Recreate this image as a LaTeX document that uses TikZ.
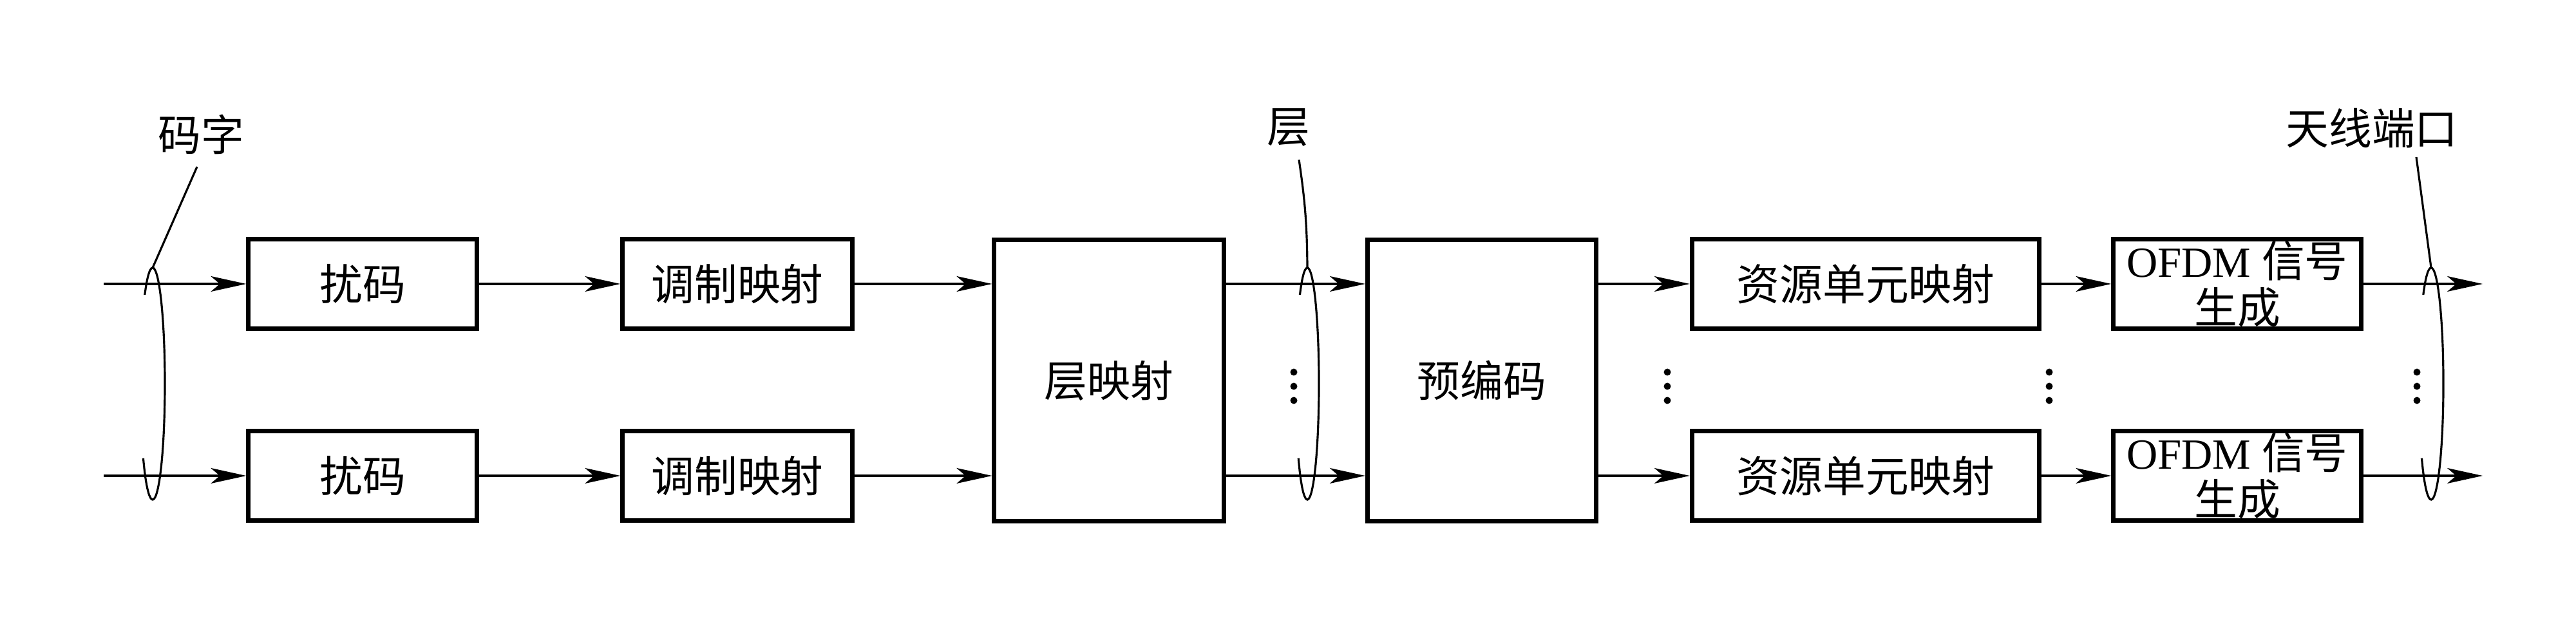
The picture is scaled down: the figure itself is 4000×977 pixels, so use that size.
\documentclass[tikz,border=0pt]{standalone}
\usepackage{fontspec}
\setmainfont{Liberation Serif}
\newfontfamily\cjk{Noto Sans CJK SC}
\usetikzlibrary{arrows.meta}
\begin{document}
\begin{tikzpicture}[x=0.01cm,y=-0.01cm,
  box/.style={draw, line width=2pt, minimum height=1.38cm, inner sep=0pt, align=center,
    font=\cjk\fontsize{19pt}{20.5pt}\selectfont},
  bigbox/.style={box, minimum height=4.36cm},
  arr/.style={line width=0.9pt, -{Stealth[length=0.55cm,width=0.24cm,inset=0.14cm]}},
  thinline/.style={line width=0.9pt},
  lbl/.style={font=\cjk\fontsize{19pt}{21pt}\selectfont, inner sep=0pt}]
\useasboundingbox (0,0) rectangle (4000,977);

% boxes
\node[box, minimum width=3.54cm] (s1) at (563,441) {扰码};
\node[box, minimum width=3.54cm] (s2) at (563,739) {扰码};
\node[box, minimum width=3.56cm] (m1) at (1145,441) {调制映射};
\node[box, minimum width=3.56cm] (m2) at (1145,739) {调制映射};
\node[bigbox, minimum width=3.56cm] (L) at (1722,591) {层映射};
\node[bigbox, minimum width=3.55cm] (P) at (2301,591) {预编码};
\node[box, minimum width=5.39cm] (r1) at (2897,441) {资源单元映射};
\node[box, minimum width=5.39cm] (r2) at (2897,739) {资源单元映射};
\node[box, minimum width=3.84cm] (o1) at (3474,441) {{\rmfamily OFDM }信号\\生成};
\node[box, minimum width=3.84cm] (o2) at (3474,739) {{\rmfamily OFDM }信号\\生成};

% free ends
\coordinate (in1) at (161,441);
\coordinate (in2) at (161,739);
\coordinate (out1) at (3855,441);
\coordinate (out2) at (3855,739);

% connectors
\draw[arr] (in1) -- (s1.west);
\draw[arr] (in2) -- (s2.west);
\draw[arr] (s1.east) -- (m1.west);
\draw[arr] (s2.east) -- (m2.west);
\draw[arr] (m1.east) -- (m1.east -| L.west);
\draw[arr] (m2.east) -- (m2.east -| L.west);
\draw[arr] (r1.east -| L.east) -- (r1.east -| P.west);
\draw[arr] (r2.east -| L.east) -- (r2.east -| P.west);
\draw[arr] (r1.west -| P.east) -- (r1.west);
\draw[arr] (r2.west -| P.east) -- (r2.west);
\draw[arr] (r1.east) -- (o1.west);
\draw[arr] (r2.east) -- (o2.west);
\draw[arr] (o1.east) -- (out1);
\draw[arr] (o2.east) -- (out2);

% bundles (ellipses)
\draw[thinline] (237,596) ++(130:0.19cm and 1.8cm)
  arc[start angle=130, end angle=-140, x radius=0.19cm, y radius=1.8cm];
\draw[thinline] (2030,596) ++(130:0.18cm and 1.8cm)
  arc[start angle=130, end angle=-140, x radius=0.18cm, y radius=1.8cm];
\draw[thinline] (3775,596) ++(130:0.19cm and 1.8cm)
  arc[start angle=130, end angle=-140, x radius=0.19cm, y radius=1.8cm];

% labels and leaders
\node[lbl] (lcw) at (312,209) {码字};
\node[lbl] (llay) at (2001,198) {层};
\node[lbl] (lant) at (3683,199) {天线端口};
\coordinate (t1) at (237,416);
\coordinate (t2) at (2030,416);
\coordinate (t3) at (3775,416);
\coordinate (k1) at (306,259);
\coordinate (k2) at (2017,248);
\coordinate (k3) at (3752,244);
\draw[thinline] (t1) -- (k1);
\draw[thinline] (t2) to[bend right=4] (k2);
\draw[thinline] (t3) -- (k3);

% dots
\foreach \xx in {2009,2589,3182,3753}{
  \foreach \yy in {578,600,622}{
    \fill (\xx,\yy) circle[radius=0.055cm];
  }
}
\end{tikzpicture}
\end{document}
